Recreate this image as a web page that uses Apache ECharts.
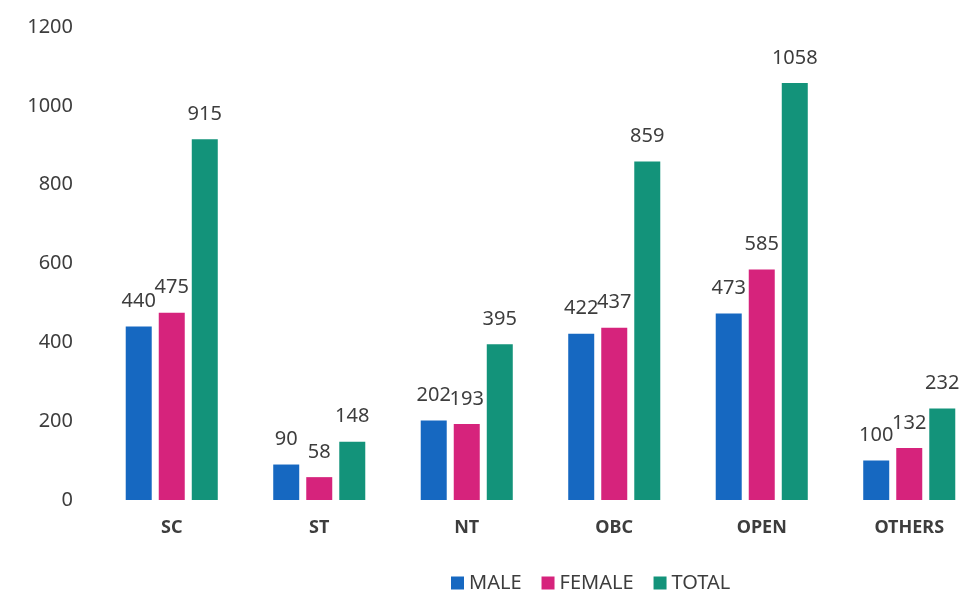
<!DOCTYPE html>
<html>
<head>
<meta charset="utf-8">
<script src="https://cdn.jsdelivr.net/npm/echarts@6/dist/echarts.min.js"></script>
<style>
html,body{margin:0;padding:0;background:#ffffff;overflow:hidden;width:964px;height:592px;}
#chart{width:1000px;height:592px;}
</style>
</head>
<body>
<div id="chart"></div>
<script>
const categories = ['SC', 'ST', 'NT', 'OBC', 'OPEN', 'OTHERS'];
const male = [440, 90, 202, 422, 473, 100];
const female = [475, 58, 193, 437, 585, 132];
const total = [915, 148, 395, 859, 1058, 232];
const yTicks = [0, 200, 400, 600, 800, 1000, 1200];

const font = '"Noto Sans", "Open Sans", sans-serif';
const textColor = '#3d3d3d';

const chart = echarts.init(document.getElementById('chart'));

function barSeries(name, data, color) {
  return {
    name: name,
    type: 'bar',
    data: data,
    barWidth: 26,
    barGap: '27%',
    itemStyle: { color: color },
    label: {
      show: true,
      position: 'top',
      distance: 15,
      color: textColor,
      fontFamily: font,
      fontSize: 20
    }
  };
}

chart.setOption({
  backgroundColor: '#ffffff',
  animation: false,
  grid: { left: 98, top: 27, width: 885, height: 473 },
  legend: {
    left: 446,
    top: 568,
    itemWidth: 13,
    itemHeight: 13,
    itemGap: 20,
    icon: 'rect',
    textStyle: { color: textColor, fontFamily: font, fontSize: 20 },
    data: ['MALE', 'FEMALE', 'TOTAL']
  },
  xAxis: {
    type: 'category',
    data: categories,
    axisLine: { show: false },
    axisTick: { show: false },
    axisLabel: {
      margin: 19,
      color: textColor,
      fontFamily: font,
      fontSize: 18,
      fontWeight: 'bold'
    }
  },
  yAxis: {
    type: 'value',
    min: yTicks[0],
    max: yTicks[yTicks.length - 1],
    interval: yTicks[1] - yTicks[0],
    axisLine: { show: false },
    axisTick: { show: false },
    splitLine: { show: false },
    axisLabel: {
      margin: 25,
      color: textColor,
      fontFamily: font,
      fontSize: 20,
      formatter: function (v) { return String(v); }
    }
  },
  series: [
    barSeries('MALE', male, '#1668c1'),
    barSeries('FEMALE', female, '#d6237c'),
    barSeries('TOTAL', total, '#13937a')
  ]
});
</script>
</body>
</html>
